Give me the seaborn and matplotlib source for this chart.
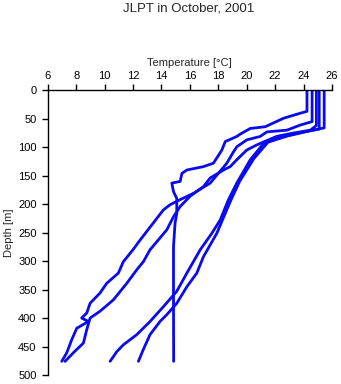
import matplotlib
matplotlib.use("Agg")
import matplotlib.pyplot as plt
import seaborn as sns
import pandas as pd

# ---- data ----
a_temp = [24.24, 24.24, 23.8, 22.6, 21.3, 20.25, 19.54, 19.31, 18.49, 18.25, 17.66, 16.96,
          15.79, 15.44, 15.32, 14.73, 14.85, 15.08, 15.08, 14.96, 14.85, 14.85, 14.86]
a_depth = [0, 37, 40, 49, 64, 67, 77, 81, 90, 105, 128, 134,
           140, 146, 160, 163, 178, 190, 216, 233, 274, 368, 476]

b_temp = [24.6, 24.6, 23.77, 22.83, 21.42, 20.95, 20.01, 19.31, 19.07, 18.6, 17.43, 16.25,
          15.32, 14.61, 14.14, 12.5, 12.0, 11.32, 10.97, 10.15, 9.68, 8.98, 8.75, 8.39,
          8.86, 8.04, 7.69, 7.34, 6.99]
b_depth = [0, 55, 61, 70, 73, 81, 87, 99, 108, 128, 163, 181,
           192, 201, 210, 263, 280, 301, 321, 339, 356, 374, 391, 400,
           406, 418, 438, 461, 476]

c_temp = [24.9, 24.9, 24.47, 23.3, 22.1, 20.7, 20.0, 19.3, 18.84, 18.37, 17.43, 16.96,
          16.02, 15.32, 14.85, 14.38, 13.2, 12.73, 12.27, 11.56, 10.62, 9.68, 8.98,
          8.75, 8.51, 7.8, 7.34, 7.22]
c_depth = [0, 62, 70, 75, 81, 96, 105, 122, 134, 140, 154, 169,
           186, 204, 222, 245, 280, 301, 315, 339, 368, 388, 400,
           420, 444, 461, 473, 476]

d_temp = [25.1, 25.1, 24.0, 22.6, 21.2, 20.25, 19.3, 18.7, 18.13, 17.55, 16.73, 15.79,
          15.08, 14.14, 13.2, 12.27, 11.32, 10.86, 10.39]
d_depth = [0, 68, 73, 81, 93, 122, 163, 193, 228, 251, 280, 321,
           353, 380, 406, 429, 447, 459, 476]

e_temp = [25.45, 25.45, 24.3, 22.9, 21.5, 20.5, 19.5, 18.85, 18.49, 17.9, 16.96, 16.49,
          15.79, 15.08, 14.38, 13.9, 13.2, 12.73, 12.38]
e_depth = [0, 66, 72, 80, 91, 120, 160, 195, 216, 251, 292, 321,
           345, 374, 394, 406, 429, 455, 476]

profiles = {"A": (a_temp, a_depth), "B": (b_temp, b_depth), "C": (c_temp, c_depth),
            "D": (d_temp, d_depth), "E": (e_temp, e_depth)}

x_ticks = [6, 8, 10, 12, 14, 16, 18, 20, 22, 24, 26]
y_ticks = [0, 50, 100, 150, 200, 250, 300, 350, 400, 450, 500]

rows = []
for name, (t, d) in profiles.items():
    for i, (ti, di) in enumerate(zip(t, d)):
        rows.append({"profile": name, "order": i, "T": ti, "depth": di})
df = pd.DataFrame(rows)

# ---- plot ----
sns.set_theme(style="ticks")
plt.rcParams["font.family"] = ["Liberation Sans", "DejaVu Sans"]

fig = plt.figure(figsize=(3.41, 3.84), dpi=100)
ax = fig.add_axes([47.7 / 341, 1 - 375 / 384, (332 - 47.7) / 341, (375 - 90.3) / 384])

sns.lineplot(data=df, x="T", y="depth", units="profile", estimator=None, sort=False,
             color="#0a0af0", linewidth=2.0, ax=ax, legend=False)

ax.set_xlim(6, 26)
ax.set_ylim(500, 0)
ax.set_xticks(x_ticks)
ax.set_yticks(y_ticks)
ax.xaxis.tick_top()
ax.xaxis.set_label_position("top")
for s in ["right", "bottom"]:
    ax.spines[s].set_visible(False)
for s in ["left", "top"]:
    ax.spines[s].set_linewidth(1.0)
    ax.spines[s].set_color("black")
ax.tick_params(axis="both", length=4, width=1.0, color="black", labelsize=8,
               labelcolor="black", direction="out")
ax.tick_params(axis="x", pad=2.5)
ax.tick_params(axis="y", pad=4)
ax.set_xlabel("Temperature [°C]", fontsize=8, labelpad=4)
ax.set_ylabel("Depth [m]", fontsize=8, labelpad=3)
ax.grid(False)

fig.text(188.5 / 341, 1 - 8.5 / 384, "JLPT in October, 2001", ha="center", va="center",
         fontsize=9.5)

fig.savefig("out.png", dpi=100)
